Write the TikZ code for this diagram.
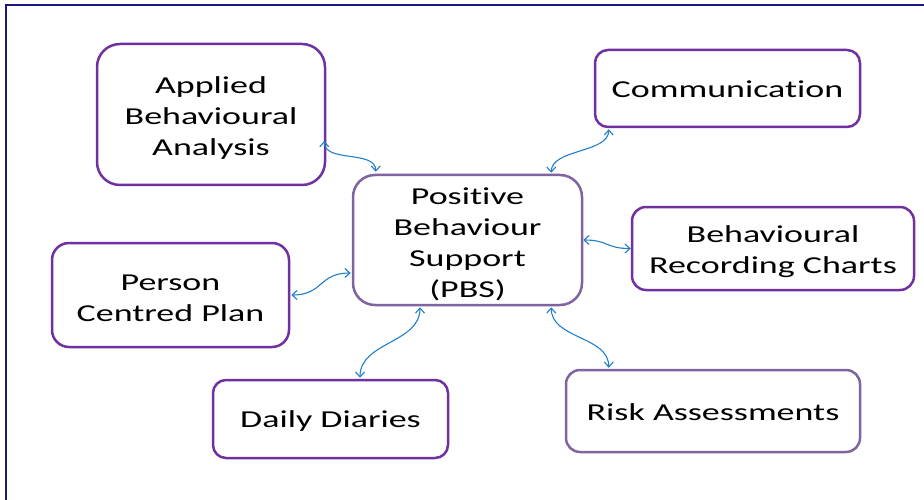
\documentclass[tikz,border=0pt]{standalone}
\usepackage{fontspec}
\setmainfont{Carlito}[FakeStretch=1.48, Ligatures={NoCommon}, RawFeature={-liga}]
\usetikzlibrary{arrows.meta}
\definecolor{darkpurple}{HTML}{7030A0}
\definecolor{lightpurple}{HTML}{8064A2}
\definecolor{linkblue}{HTML}{1F7FCB}
\definecolor{framenavy}{HTML}{1A1A7A}
\tikzset{
  box/.style={draw, line width=2.5pt, fill=white, inner sep=0pt},
  dp/.style={box, draw=darkpurple},
  lp/.style={box, draw=lightpurple},
  txt/.style={align=center, inner sep=0pt, font=\fontsize{24.3}{31}\selectfont, text=black},
  link/.style={draw=linkblue, line width=1.1pt, {Straight Barb[length=5pt,width=9pt]}-{Straight Barb[length=5pt,width=9pt]}},
}
\begin{document}
\begin{tikzpicture}[x=1pt,y=-1pt]
\useasboundingbox (0,0) rectangle (924,500);
\draw[framenavy, line width=2.2pt] (6,500) -- (6,5) -- (924,5);

\node[dp, minimum width=228, minimum height=141, rounded corners=23] (aba) at (211,114.5) {};
\node[dp, minimum width=265, minimum height=77, rounded corners=13] (comm) at (727.5,88.5) {};
\node[lp, minimum width=229, minimum height=130, rounded corners=22] (pbs) at (467.5,240) {};
\node[dp, minimum width=282, minimum height=83, rounded corners=14] (brc) at (773,248.5) {};
\node[dp, minimum width=237, minimum height=104, rounded corners=17] (pcp) at (170.5,295) {};
\node[dp, minimum width=235, minimum height=78, rounded corners=13] (dd) at (330.5,419) {};
\node[lp, minimum width=294, minimum height=82, rounded corners=14] (ra) at (713,411) {};

\node[txt] (abat) at ([yshift=-4pt]aba.center) {Applied\\Behavioural\\Analysis};
\node[txt] (commt) at ([yshift=-1pt]comm.center) {Communication};
\node[txt] (pbst) at ([yshift=-4pt]pbs.center) {Positive\\Behaviour\\Support\\(PBS)};
\node[txt] (brct) at ([yshift=-3pt]brc.center) {Behavioural\\Recording Charts};
\node[txt] (pcpt) at ([yshift=-3pt]pcp.center) {Person\\Centred Plan};
\node[txt] (ddt) at ([yshift=-2pt]dd.center) {Daily Diaries};
\node[txt] (rat) at ([yshift=-1pt]ra.center) {Risk Assessments};

\draw[link] ([xshift=-2pt,yshift=-26.5pt]aba.east) .. controls +(0,22) and +(0,-22) .. ([xshift=24pt,yshift=2pt]pbs.north west);
\draw[link] ([xshift=15pt,yshift=-1pt]comm.south west) .. controls +(0,24) and +(0,-24) .. ([xshift=-32pt,yshift=1pt]pbs.north east);
\draw[link] (pbs.east) .. controls +(25,0) and +(-25,0) .. (brc.west);
\draw[link] ([xshift=1pt]pcp.east) .. controls +(32,0) and +(-32,0) .. ([yshift=-33pt,xshift=-1pt]pbs.west);
\draw[link] ([xshift=29.5pt,yshift=1pt]dd.north) .. controls +(0,-36) and +(0,36) .. ([xshift=-47.5pt,yshift=-1pt]pbs.south);
\draw[link] ([xshift=-32pt,yshift=-1pt]pbs.south east) .. controls +(0,32) and +(0,-32) .. ([xshift=44pt,yshift=1pt]ra.north west);
\end{tikzpicture}
\end{document}
